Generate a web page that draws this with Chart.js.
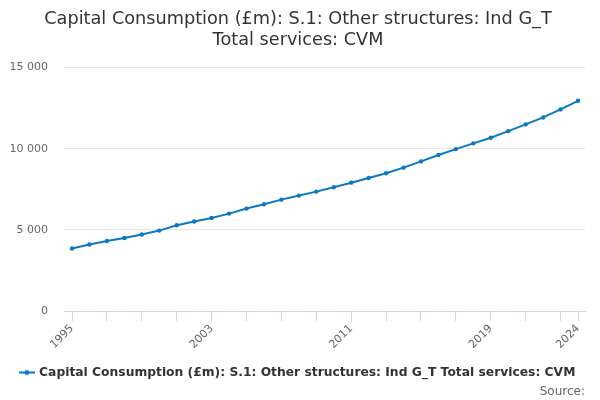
<!DOCTYPE html>
<html>
<head>
<meta charset="utf-8">
<script src="https://cdn.jsdelivr.net/npm/chart.js@4/dist/chart.umd.min.js"></script>
<style>
  html, body { margin: 0; padding: 0; background: #fff; }
  #wrap { width: 600px; height: 400px; }
</style>
</head>
<body>
<div id="wrap"><canvas id="grafico"></canvas></div>
<script>
// Datos
const years = [1995, 1996, 1997, 1998, 1999, 2000, 2001, 2002, 2003, 2004,
  2005, 2006, 2007, 2008, 2009, 2010, 2011, 2012, 2013, 2014,
  2015, 2016, 2017, 2018, 2019, 2020, 2021, 2022, 2023, 2024];
const values = [3855, 4100, 4320, 4505, 4715, 4960, 5285, 5515, 5735, 6005,
  6315, 6580, 6865, 7115, 7360, 7625, 7910, 8195, 8485, 8835,
  9220, 9610, 9975, 10330, 10675, 11085, 11495, 11925, 12420, 12950];
const tickYears = [1995, 1997, 1999, 2001, 2003, 2005, 2007, 2009, 2011, 2013,
  2015, 2017, 2019, 2021, 2023, 2024];
const labelYears = [1995, 2003, 2011, 2019, 2024];
const yTicks = [0, 5000, 10000, 15000];

const azul = "#0b78c3";
const serie = "Capital Consumption (£m): S.1: Other structures: Ind G_T Total services: CVM";

// Símbolo de la leyenda: línea con punto
const simbolo = document.createElement("canvas");
simbolo.width = 16;
simbolo.height = 8;
const sc = simbolo.getContext("2d");
sc.strokeStyle = azul;
sc.lineWidth = 2;
sc.beginPath();
sc.moveTo(0, 4);
sc.lineTo(16, 4);
sc.stroke();
sc.fillStyle = azul;
sc.beginPath();
sc.arc(8, 4, 2.5, 0, Math.PI * 2);
sc.fill();

const miles = v => String(v).replace(/\B(?=(\d{3})+(?!\d))/g, " ");

new Chart(document.getElementById("grafico"), {
  type: "line",
  data: {
    datasets: [{
      label: serie,
      data: years.map((y, i) => ({ x: y, y: values[i] })),
      borderColor: azul,
      backgroundColor: azul,
      borderWidth: 2,
      pointRadius: 2.2,
      pointBorderWidth: 0,
      pointHoverRadius: 3,
      tension: 0,
      pointStyle: "circle"
    }]
  },
  options: {
    responsive: true,
    maintainAspectRatio: false,
    animation: false,
    layout: { padding: { left: 11, right: 15, top: 4, bottom: 1 } },
    scales: {
      x: {
        type: "linear",
        min: 1994.54,
        max: 2024.4,
        afterBuildTicks: scale => {
          scale.ticks = tickYears.map(v => ({ value: v }));
        },
        afterFit: scale => {
          // no reservar espacio extra para las etiquetas giradas
          scale.paddingLeft = 0;
          scale.paddingRight = 0;
          scale.height += 12;
        },
        border: { color: "#ccd6eb", width: 1 },
        grid: {
          drawOnChartArea: false,
          drawTicks: true,
          tickLength: 10,
          color: "#ccd6eb"
        },
        ticks: {
          autoSkip: false,
          maxRotation: 45,
          minRotation: 45,
          padding: 1,
          color: "#666666",
          font: { family: "'DejaVu Sans', sans-serif", size: 11 },
          callback: v => labelYears.includes(v) ? String(v) : ""
        }
      },
      y: {
        min: 0,
        max: 15000,
        afterBuildTicks: scale => {
          scale.ticks = yTicks.map(v => ({ value: v }));
        },
        afterFit: scale => {
          // ancho = etiqueta más ancha + separación (Chart.js cuenta el padding dos veces)
          scale.width = 53;
        },
        border: { display: false },
        grid: { color: "#e6e6e6", drawTicks: false },
        ticks: {
          padding: 16,
          color: "#666666",
          font: { family: "'DejaVu Sans', sans-serif", size: 11 },
          callback: v => miles(v)
        }
      }
    },
    plugins: {
      title: {
        display: true,
        text: ["Capital Consumption (£m): S.1: Other structures: Ind G_T", "Total services: CVM"],
        color: "#333333",
        font: { family: "'DejaVu Sans', sans-serif", size: 17.7, weight: "normal", lineHeight: 1.2 },
        padding: { top: 5, bottom: 16 }
      },
      subtitle: {
        display: true,
        text: "Source:",
        position: "bottom",
        align: "end",
        color: "#666666",
        font: { family: "'DejaVu Sans', sans-serif", size: 12 },
        padding: { top: -4, bottom: 0 }
      },
      legend: {
        position: "bottom",
        labels: {
          usePointStyle: true,
          pointStyle: simbolo,
          color: "#333333",
          padding: 2,
          font: { family: "'DejaVu Sans', sans-serif", size: 12.3, weight: "bold" }
        }
      },
      tooltip: { enabled: false }
    }
  }
});
</script>
</body>
</html>
